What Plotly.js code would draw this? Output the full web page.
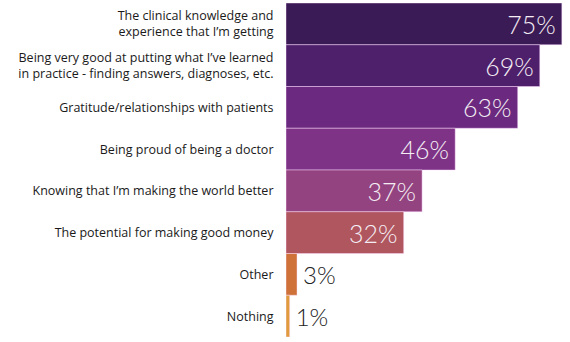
<!DOCTYPE html>
<html>
<head>
<meta charset="utf-8">
<script src="https://cdn.plot.ly/plotly-3.0.1.min.js"></script>
<style>html,body{margin:0;padding:0;background:#fff;}#chart{width:570px;height:342px;}</style>
</head>
<body>
<div id="chart"></div>
<script>
const categories = [
  "The clinical knowledge and<br>experience that I\u2019m getting",
  "Being very good at putting what I\u2019ve learned<br>in practice - finding answers, diagnoses, etc.",
  "Gratitude/relationships with patients",
  "Being proud of being a doctor",
  "Knowing that I\u2019m making the world better",
  "The potential for making good money",
  "Other",
  "Nothing"
];
const values = [75, 69, 63, 46, 37, 32, 3, 1];
const barColors = ["#3b1b56", "#4e1f6b", "#6b2a7f", "#7e3386", "#934380", "#b0565f", "#cf723a", "#df9b3d"];
const labelText = values.map(v => v > 10 ? v + "%\u2009" : "\u2009" + v + "%");

const trace = {
  type: "bar",
  orientation: "h",
  y: categories,
  x: values,
  text: labelText,
  textposition: values.map(v => v > 10 ? "inside" : "outside"),
  insidetextanchor: "end",
  textangle: 0,
  cliponaxis: false,
  insidetextfont: {family: "Lato, sans-serif", size: 25, color: "#f4eef4", weight: 300},
  outsidetextfont: {family: "Lato, sans-serif", size: 24, color: "#222222", weight: 300},
  marker: {color: barColors, line: {color: "rgba(255,220,255,0.45)", width: 1}},
  hoverinfo: "none"
};

const layout = {
  width: 570, height: 342,
  margin: {l: 286, r: 3, t: 3, b: 5},
  paper_bgcolor: "#ffffff", plot_bgcolor: "#ffffff",
  bargap: 0,
  showlegend: false,
  uniformtext: {mode: false},
  xaxis: {range: [0, 76.4], visible: false, fixedrange: true},
  yaxis: {
    autorange: "reversed",
    showgrid: false, zeroline: false, showline: false,
    ticks: "outside", ticklen: 9, tickcolor: "rgba(0,0,0,0)",
    tickfont: {family: "'Open Sans', sans-serif", size: 12.5, color: "#1a1a1a"}
  }
};

Plotly.newPlot("chart", [trace], layout, {staticPlot: true, displayModeBar: false});
</script>
</body>
</html>
